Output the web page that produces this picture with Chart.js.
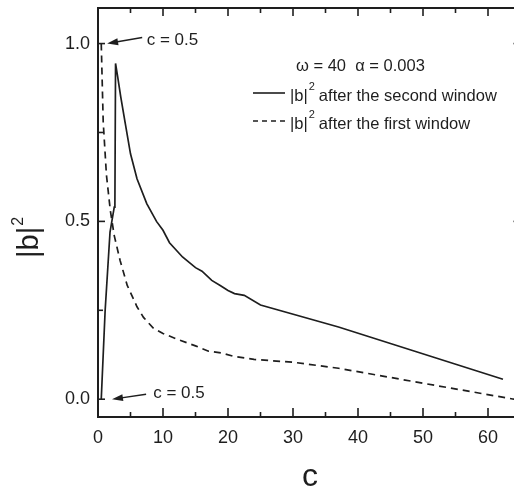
<!DOCTYPE html>
<html>
<head>
<meta charset="utf-8">
<script src="https://cdn.jsdelivr.net/npm/chart.js@4.4.1/dist/chart.umd.min.js"></script>
<style>
  html, body { margin: 0; padding: 0; background: #fff; overflow: hidden; }
  #wrap { width: 514px; height: 491px; overflow: hidden; }
</style>
</head>
<body>
<div id="wrap"><canvas id="graphicB" width="540" height="491"></canvas></div>
<script>
// |b|^2 vs c, two windows
const cSecond = [0.5, 1.1, 1.85, 2.5, 2.6, 2.7, 3.0, 3.5, 4.2, 5.0, 6.0, 7.5, 9.0, 10.0, 11.0, 13.0, 15.0, 16.0, 17.5, 18.8, 20.0, 21.0, 22.5, 25.0, 37.0, 62.3];
const bSecond = [0.0, 0.25, 0.47, 0.54, 0.55, 0.944, 0.91, 0.85, 0.775, 0.69, 0.62, 0.55, 0.5, 0.475, 0.44, 0.40, 0.37, 0.36, 0.334, 0.32, 0.306, 0.297, 0.292, 0.265, 0.203, 0.056];

const cFirst = [0.5, 0.8, 1.3, 1.9, 2.5, 3.4, 4.5, 6.0, 7.0, 8.5, 10.0, 12.0, 15.0, 17.0, 19.0, 21.0, 24.0, 30.0, 37.0, 50.0, 64.0];
const bFirst = [1.0, 0.78, 0.63, 0.53, 0.46, 0.39, 0.32, 0.26, 0.23, 0.20, 0.185, 0.17, 0.15, 0.135, 0.13, 0.12, 0.112, 0.104, 0.087, 0.045, 0.0];

const xTicks = [0, 10, 20, 30, 40, 50, 60];
const xMinorTicks = [5, 15, 25, 35, 45, 55, 65];
const yTicks = [0.0, 0.5, 1.0];
const yMinorTicks = [0.25, 0.75];

const seriesLabels = ['after the second window', 'after the first window'];
const paramText = '\u03c9 = 40  \u03b1 = 0.003';

const FONT = "'Liberation Sans', Arial, sans-serif";
const INK = '#1e1e1e';

function toPoints(xs, ys){
  return xs.map((x, i) => ({x: x, y: ys[i]}));
}

//---- frame, inward ticks, titles, legend, arrows
const framePlugin = {
  id: 'frame',
  afterDraw(chart){
    const ctx = chart.ctx;
    const {left, right, top, bottom} = chart.chartArea;
    const sx = chart.scales.x, sy = chart.scales.y;
    ctx.save();
    ctx.strokeStyle = INK;
    ctx.fillStyle = INK;
    ctx.lineWidth = 2;
    ctx.strokeRect(left, top, right - left, bottom - top);

    function seg(x1, y1, x2, y2){
      ctx.beginPath(); ctx.moveTo(x1, y1); ctx.lineTo(x2, y2); ctx.stroke();
    }
    ctx.lineWidth = 1.6;
    xTicks.forEach(v => { const p = sx.getPixelForValue(v); seg(p, bottom, p, bottom - 9); seg(p, top, p, top + 8); });
    xMinorTicks.forEach(v => { const p = sx.getPixelForValue(v); seg(p, bottom, p, bottom - 5); seg(p, top, p, top + 5); });
    yTicks.forEach(v => { const p = sy.getPixelForValue(v); seg(left, p, left + 7, p); seg(right, p, right - 7, p); });
    yMinorTicks.forEach(v => { const p = sy.getPixelForValue(v); seg(left, p, left + 5, p); seg(right, p, right - 5, p); });

    // x title
    ctx.font = '32px ' + FONT;
    ctx.textAlign = 'center';
    ctx.textBaseline = 'alphabetic';
    ctx.fillText('c', 310, 486);

    // y title |b|^2
    ctx.save();
    ctx.translate(38, 258);
    ctx.rotate(-Math.PI / 2);
    ctx.textAlign = 'left';
    ctx.font = '29px ' + FONT;
    ctx.fillText('|b|', 0, 0);
    const w = ctx.measureText('|b|').width;
    ctx.font = '16px ' + FONT;
    ctx.fillText('2', w + 1, -15);
    ctx.restore();

    // legend
    ctx.textAlign = 'left';
    ctx.font = '16.5px ' + FONT;
    ctx.fillText(paramText, 296, 71);
    const rows = [{y: 101, dash: []}, {y: 129, dash: [5, 4]}];
    rows.forEach((r, i) => {
      ctx.lineWidth = 1.6;
      ctx.setLineDash(r.dash);
      seg(253, r.y - 8, 285, r.y - 8);
      ctx.setLineDash([]);
      ctx.font = '16.5px ' + FONT;
      ctx.fillText('|b|', 290, r.y);
      let x = 290 + ctx.measureText('|b|').width + 1;
      ctx.font = '11px ' + FONT;
      ctx.fillText('2', x, r.y - 11);
      x += ctx.measureText('2').width + 4;
      ctx.font = '16.5px ' + FONT;
      ctx.fillText(seriesLabels[i], x, r.y);
    });

    // c = 0.5 arrows
    const notes = [
      {tip: [1.4, 1.0], tail: [6.8, 1.017], at: [7.5, 0.997]},
      {tip: [2.15, 0.0], tail: [7.4, 0.014], at: [8.5, 0.003]}
    ];
    notes.forEach(n => {
      const tx = sx.getPixelForValue(n.tip[0]), ty = sy.getPixelForValue(n.tip[1]);
      const ax = sx.getPixelForValue(n.tail[0]), ay = sy.getPixelForValue(n.tail[1]);
      ctx.lineWidth = 1.4;
      seg(ax, ay, tx + 6, ty + (ay - ty) * 6 / (ax - tx));
      const ang = Math.atan2(ty - ay, tx - ax);
      ctx.beginPath();
      ctx.moveTo(tx, ty);
      ctx.lineTo(tx - 11 * Math.cos(ang) - 3.5 * Math.sin(ang), ty - 11 * Math.sin(ang) + 3.5 * Math.cos(ang));
      ctx.lineTo(tx - 11 * Math.cos(ang) + 3.5 * Math.sin(ang), ty - 11 * Math.sin(ang) - 3.5 * Math.cos(ang));
      ctx.closePath();
      ctx.fill();
      ctx.font = '17px ' + FONT;
      ctx.fillText('c = 0.5', sx.getPixelForValue(n.at[0]), sy.getPixelForValue(n.at[1]));
    });
    ctx.restore();
  }
};

const ctx = document.getElementById('graphicB').getContext('2d');
const chart1 = new Chart(ctx, {
  type: 'line',
  data: {
    datasets: [
      {
        label: seriesLabels[0],
        data: toPoints(cSecond, bSecond),
        borderColor: INK,
        borderWidth: 1.7,
        pointRadius: 0,
        tension: 0,
        fill: false
      },
      {
        label: seriesLabels[1],
        data: toPoints(cFirst, bFirst),
        borderColor: INK,
        borderWidth: 1.7,
        borderDash: [7, 5],
        pointRadius: 0,
        tension: 0,
        fill: false
      }
    ]
  },
  options: {
    responsive: false,
    animation: false,
    devicePixelRatio: 1,
    layout: { padding: { left: 0, top: 8, right: 19.5, bottom: 0 } },
    plugins: { legend: { display: false }, tooltip: { enabled: false } },
    scales: {
      x: {
        type: 'linear', min: 0, max: 65,
        grid: { display: false, drawTicks: false }, border: { display: false },
        ticks: { padding: 10, color: INK, font: { family: FONT, size: 18 }, callback: v => String(v) },
        afterBuildTicks: s => { s.ticks = xTicks.map(v => ({value: v})); },
        afterFit: s => { s.height = 74; s.paddingLeft = 0; s.paddingRight = 0; }
      },
      y: {
        type: 'linear', min: -0.05, max: 1.1,
        grid: { display: false, drawTicks: false }, border: { display: false },
        ticks: { padding: 8, color: INK, font: { family: FONT, size: 18 }, callback: v => v.toFixed(1) },
        afterBuildTicks: s => { s.ticks = yTicks.map(v => ({value: v})); },
        afterFit: s => { s.width = 98; s.paddingTop = 0; s.paddingBottom = 0; }
      }
    }
  },
  plugins: [framePlugin]
});
</script>
</body>
</html>
